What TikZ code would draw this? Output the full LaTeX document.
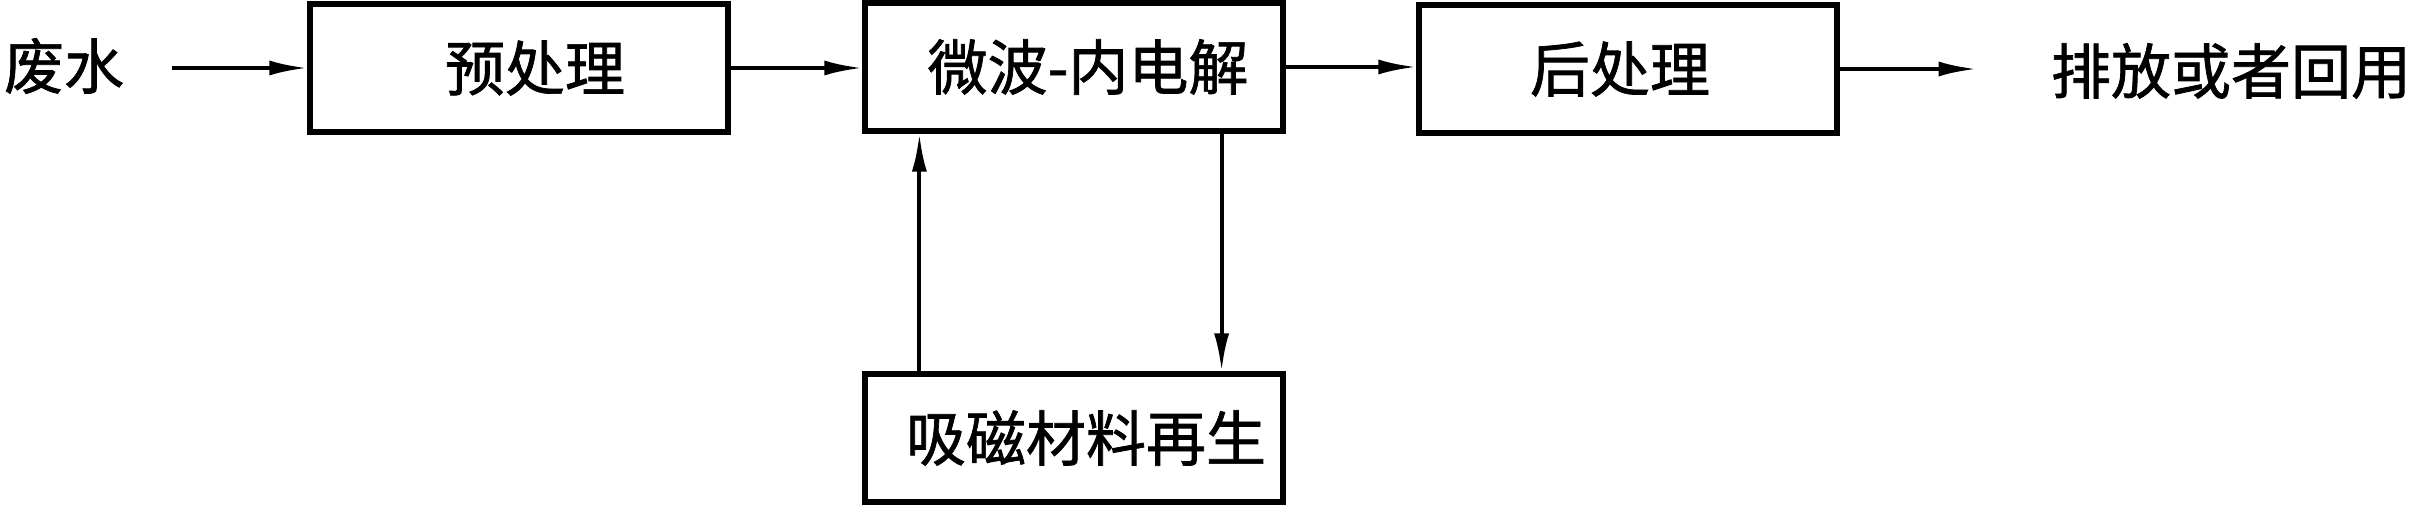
\documentclass[tikz,border=0pt]{standalone}
\usepackage{fontspec}
\setmainfont{Noto Sans CJK SC}[FakeBold=1.2]
\usetikzlibrary{arrows.meta}
\begin{document}
\begin{tikzpicture}[x=0.5pt,y=-0.5pt,
  every node/.style={font=\fontsize{30}{36}\selectfont},
  procbox/.style={draw, line width=2.6pt, minimum width=209pt, minimum height=64pt, inner sep=0pt},
  plain/.style={inner sep=0pt},
  arr/.style={line width=2pt, -{Latex[length=19pt,width=7.5pt]}}]
\useasboundingbox (0,0) rectangle (2417,506);
\node[plain] (src) at (64,66) {废水};
\node[procbox] (pre) at (519,68) {\hspace*{16pt}预处理};
\node[procbox] (mw) at (1074,67) {\hspace*{14pt}微波-内电解};
\node[procbox] (post) at (1628,69) {\hspace*{-8pt}后处理};
\node[procbox] (regen) at (1074,438) {\hspace*{12pt}吸磁材料再生};
\node[plain] (out) at (2231,71) {排放或者回用};
\draw[arr, shorten <=24pt] (src.east |- pre.west) -- (pre.west);
\draw[arr] (pre.east) -- (pre.east -| mw.west);
\draw[arr] (mw.east) -- (mw.east -| post.west);
\draw[arr, shorten >=37pt] (post.east) -- (post.east -| out.west);
\draw[arr] ([xshift=28.5pt]regen.north west) -- ([xshift=28.5pt]mw.south west);
\draw[arr] ([xshift=-32pt]mw.south east) -- ([xshift=-32pt]regen.north east);
\end{tikzpicture}
\end{document}
